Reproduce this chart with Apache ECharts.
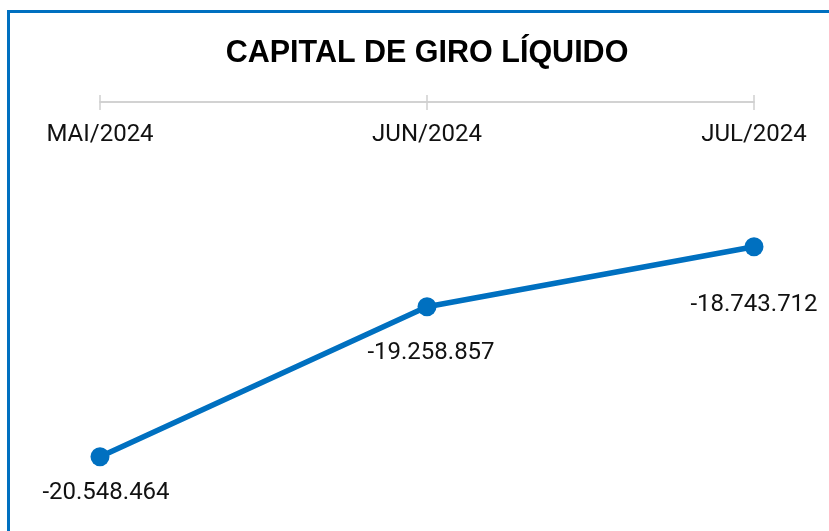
<!DOCTYPE html>
<html><head><meta charset="utf-8">
<script src="https://cdn.jsdelivr.net/npm/echarts@6/dist/echarts.min.js"></script>
<style>html,body{margin:0;padding:0;background:#fff}#c{width:829px;height:531px}</style>
</head><body><div id="c"></div>
<script>
const categories = ['MAI/2024', 'JUN/2024', 'JUL/2024'];
const values = [-20548464, -19258857, -18743712];
const titleText = 'CAPITAL DE GIRO LÍQUIDO';
const labelOffsets = [[6, 0], [4, 10], [0, 22]];

function fmt(v) {
  const s = Math.abs(v).toString().replace(/\B(?=(\d{3})+(?!\d))/g, '.');
  return (v < 0 ? '-' : '') + s;
}

const chart = echarts.init(document.getElementById('c'), null, {renderer: 'canvas'});
const axisBase = {
  type: 'category', data: categories, position: 'top', boundaryGap: false,
  axisLine: {show: true, lineStyle: {color: '#d0d0d0', width: 1.5}},
  splitLine: {show: false}
};
chart.setOption({
  animation: false,
  backgroundColor: '#fff',
  title: {
    text: titleText, left: 422, textAlign: 'center', top: 33,
    textStyle: {fontFamily: 'Liberation Sans', fontWeight: 'bold', fontSize: 30.5, color: '#000'}
  },
  graphic: [{
    type: 'rect', shape: {x: 8.5, y: 11.5, width: 900, height: 600},
    style: {fill: 'none', stroke: '#0070C0', lineWidth: 3}, silent: true
  }],
  grid: {left: 100, right: 75, top: 102, bottom: 21.6, containLabel: false},
  xAxis: [
    Object.assign({}, axisBase, {
      axisTick: {show: true, length: 7, lineStyle: {color: '#d0d0d0', width: 1.5}},
      axisLabel: {show: true, inside: true, margin: 21, color: '#111',
        fontFamily: 'Roboto', fontSize: 24}
    }),
    Object.assign({}, axisBase, {
      axisTick: {show: true, inside: true, length: 8, lineStyle: {color: '#d0d0d0', width: 1.5}},
      axisLabel: {show: false}
    })
  ],
  yAxis: {type: 'value', min: -21000000, max: -17500000, show: false, splitLine: {show: false}},
  series: [{
    type: 'line', xAxisIndex: 0,
    data: values.map((v, i) => ({value: v, label: {offset: labelOffsets[i]}})),
    symbol: 'circle', symbolSize: 19,
    lineStyle: {color: '#0070C0', width: 5.5},
    itemStyle: {color: '#0070C0'},
    label: {
      show: true, position: 'bottom', distance: 15, color: '#111',
      fontFamily: 'Roboto', fontSize: 24,
      formatter: p => fmt(p.value)
    }
  }]
});
</script></body></html>
